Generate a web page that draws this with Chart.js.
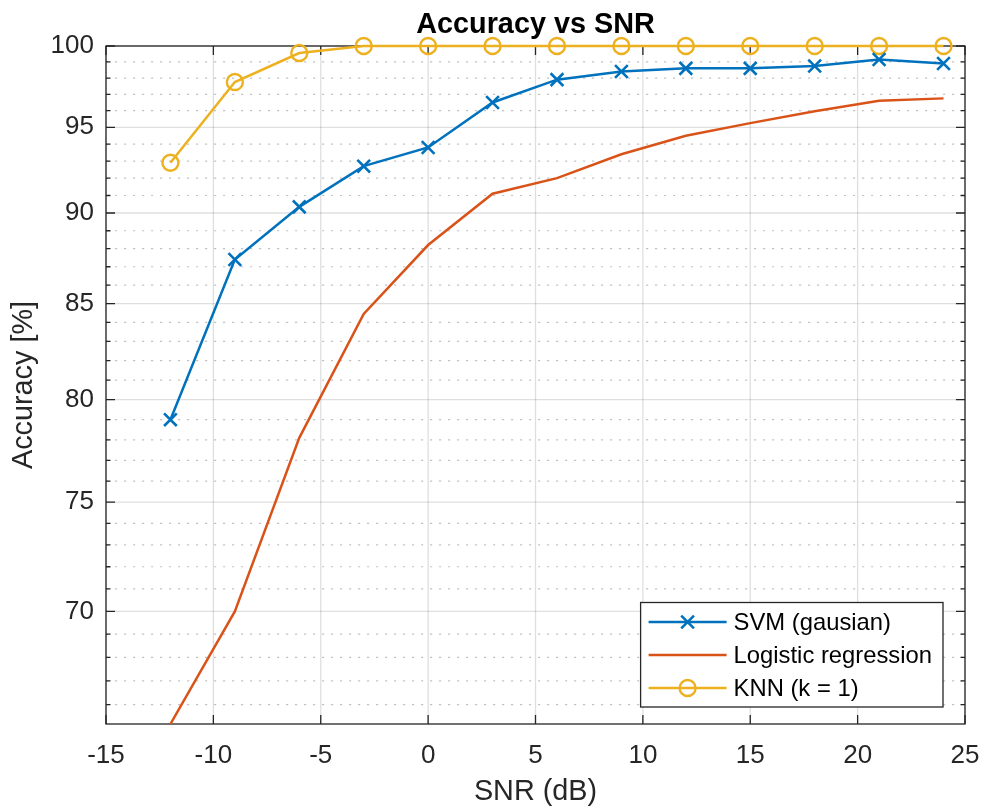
<!DOCTYPE html>
<html>
<head>
<meta charset="utf-8">
<title>Accuracy vs SNR</title>
<script src="https://cdn.jsdelivr.net/npm/chart.js@4/dist/chart.umd.min.js"></script>
<style>
  html, body { margin: 0; padding: 0; background: #ffffff; }
  #wrap { width: 981px; height: 807px; position: relative; }
</style>
</head>
<body>
<div id="wrap"><canvas id="chart"></canvas></div>
<script>
// SNR sweep (dB) and classifier accuracy (%) at each point
const snr = [-12, -9, -6, -3, 0, 3, 6, 9, 12, 15, 18, 21, 24];
const svmAcc = [79.0, 87.4, 90.35, 92.7, 93.8, 96.5, 97.9, 98.4, 98.6, 98.6, 98.75, 99.15, 98.9];
const logisticAcc = [65.2, 70.0, 78.1, 84.45, 88.2, 91.1, 92.0, 93.4, 94.5, 95.25, 95.97, 96.6, 96.75];
const knnAcc = [92.9, 97.75, 99.56, 100, 100, 100, 100, 100, 100, 100, 100, 100, 100];

const seriesNames = ['SVM (gausian)', 'Logistic regression', 'KNN (k = 1)'];
const xTicks = [-15, -10, -5, 0, 5, 10, 15, 20, 25];
const yTicks = [70, 75, 80, 85, 90, 95, 100];

const FONT = '"Liberation Sans", Arial, Helvetica, sans-serif';
const AXIS_COLOR = '#262626';

const allValues = svmAcc.concat(logisticAcc, knnAcc);
const yMin = Math.min(...allValues);
const yMax = Math.max(...allValues);

const toPoints = vals => vals.map((v, i) => ({ x: snr[i], y: v }));

// Grid, box and inward tick marks in the style of a MATLAB axes
const axesFrame = {
  id: 'axesFrame',
  beforeDatasetsDraw(chart) {
    const { ctx, chartArea: a, scales: { x, y } } = chart;
    const hline = p => { ctx.beginPath(); ctx.moveTo(a.left, p); ctx.lineTo(a.right, p); ctx.stroke(); };
    const vline = p => { ctx.beginPath(); ctx.moveTo(p, a.top); ctx.lineTo(p, a.bottom); ctx.stroke(); };
    const yMinor = [];
    for (let v = Math.ceil(y.min); v <= Math.floor(y.max); v++) {
      if (!yTicks.includes(v)) yMinor.push(v);
    }
    ctx.save();
    // minor dotted grid (log decades split at every unit)
    ctx.lineWidth = 1.2;
    ctx.strokeStyle = 'rgba(38,38,38,0.28)';
    ctx.setLineDash([2.2, 6.8]);
    yMinor.forEach(v => hline(y.getPixelForValue(v)));
    ctx.setLineDash([]);
    // major grid
    ctx.lineWidth = 1.3;
    ctx.strokeStyle = 'rgba(38,38,38,0.15)';
    yTicks.forEach(v => hline(y.getPixelForValue(v)));
    xTicks.forEach(v => vline(x.getPixelForValue(v)));
    // axes box
    ctx.strokeStyle = AXIS_COLOR;
    ctx.lineWidth = 1.3;
    ctx.strokeRect(a.left, a.top, a.right - a.left, a.bottom - a.top);
    // inward ticks
    const major = 9, minor = 4.5;
    ctx.beginPath();
    xTicks.forEach(v => {
      const p = x.getPixelForValue(v);
      ctx.moveTo(p, a.bottom); ctx.lineTo(p, a.bottom - major);
      ctx.moveTo(p, a.top); ctx.lineTo(p, a.top + major);
    });
    yTicks.forEach(v => {
      const p = y.getPixelForValue(v);
      ctx.moveTo(a.left, p); ctx.lineTo(a.left + major, p);
      ctx.moveTo(a.right, p); ctx.lineTo(a.right - major, p);
    });
    yMinor.forEach(v => {
      const p = y.getPixelForValue(v);
      ctx.moveTo(a.left, p); ctx.lineTo(a.left + minor, p);
      ctx.moveTo(a.right, p); ctx.lineTo(a.right - minor, p);
    });
    ctx.stroke();
    ctx.restore();
  }
};

// Boxed legend in the lower-right corner of the plot area
const cornerLegend = {
  id: 'cornerLegend',
  afterDatasetsDraw(chart) {
    const { ctx, chartArea: a } = chart;
    const sets = chart.data.datasets;
    ctx.save();
    ctx.font = '23.8px ' + FONT;
    const textW = Math.max(...sets.map(d => ctx.measureText(d.label).width));
    const rowH = 33, padTop = 19.5, padBottom = 19;
    const sampleLeft = 8, sampleLen = 78, textGap = 7, padRight = 11;
    const w = sampleLeft + sampleLen + textGap + textW + padRight;
    const h = padTop + rowH * (sets.length - 1) + padBottom;
    const right = a.right - 22, bottom = a.bottom - 17;
    const left = right - w, top = bottom - h;
    ctx.fillStyle = '#ffffff';
    ctx.fillRect(left, top, w, h);
    ctx.lineWidth = 1.3;
    ctx.strokeStyle = AXIS_COLOR;
    ctx.strokeRect(left, top, w, h);
    sets.forEach((d, i) => {
      const cy = top + padTop + rowH * i;
      const x0 = left + sampleLeft, x1 = x0 + sampleLen, cx = (x0 + x1) / 2;
      ctx.strokeStyle = d.borderColor;
      ctx.lineWidth = d.borderWidth;
      ctx.beginPath(); ctx.moveTo(x0, cy); ctx.lineTo(x1, cy); ctx.stroke();
      if (d.pointRadius > 0) {
        ctx.lineWidth = d.pointBorderWidth;
        ctx.beginPath();
        if (d.pointStyle === 'circle') {
          ctx.arc(cx, cy, d.pointRadius, 0, Math.PI * 2);
        } else {
          const r = d.pointRadius * Math.SQRT1_2;
          ctx.moveTo(cx - r, cy - r); ctx.lineTo(cx + r, cy + r);
          ctx.moveTo(cx + r, cy - r); ctx.lineTo(cx - r, cy + r);
        }
        ctx.stroke();
      }
      ctx.fillStyle = '#000000';
      ctx.textAlign = 'left';
      ctx.textBaseline = 'middle';
      ctx.fillText(d.label, x1 + textGap, cy + 1);
    });
    ctx.restore();
  }
};

// Bold title centred over the axes
const axesTitle = {
  id: 'axesTitle',
  afterDraw(chart) {
    const { ctx, chartArea: a } = chart;
    ctx.save();
    ctx.font = 'bold 28.8px ' + FONT;
    ctx.fillStyle = '#000000';
    ctx.textAlign = 'center';
    ctx.textBaseline = 'alphabetic';
    ctx.fillText('Accuracy vs SNR', (a.left + a.right) / 2, 32.7);
    ctx.restore();
  }
};

new Chart(document.getElementById('chart'), {
  type: 'line',
  data: {
    datasets: [
      {
        label: seriesNames[0],
        data: toPoints(svmAcc),
        borderColor: '#0072BD',
        backgroundColor: '#0072BD',
        borderWidth: 2.5,
        pointStyle: 'crossRot',
        pointRadius: 9,
        pointHoverRadius: 9,
        pointBorderWidth: 2.6,
        pointBorderColor: '#0072BD',
        clip: false
      },
      {
        label: seriesNames[1],
        data: toPoints(logisticAcc),
        borderColor: '#D95319',
        backgroundColor: '#D95319',
        borderWidth: 2.5,
        pointRadius: 0,
        pointHoverRadius: 0,
        pointBorderWidth: 0
      },
      {
        label: seriesNames[2],
        data: toPoints(knnAcc),
        borderColor: '#EDB120',
        backgroundColor: 'rgba(0,0,0,0)',
        borderWidth: 2.5,
        pointStyle: 'circle',
        pointRadius: 8,
        pointHoverRadius: 8,
        pointBorderWidth: 2.4,
        pointBorderColor: '#EDB120',
        pointBackgroundColor: 'rgba(0,0,0,0)',
        clip: false
      }
    ]
  },
  options: {
    responsive: true,
    maintainAspectRatio: false,
    animation: false,
    events: [],
    layout: { padding: { top: 46, right: 16, bottom: 0, left: 0 } },
    plugins: {
      legend: { display: false },
      title: { display: false },
      tooltip: { enabled: false }
    },
    elements: { line: { tension: 0 } },
    scales: {
      x: {
        type: 'linear',
        position: 'bottom',
        min: xTicks[0],
        max: xTicks[xTicks.length - 1],
        afterBuildTicks: s => { s.ticks = xTicks.map(v => ({ value: v })); },
        afterFit: s => { s.height = 83; s.paddingLeft = 0; s.paddingRight = 0; },
        grid: { display: false, drawTicks: false },
        border: { display: false },
        ticks: {
          padding: 16,
          color: AXIS_COLOR,
          font: { family: FONT, size: 26 },
          maxRotation: 0,
          autoSkip: false,
          callback: v => String(v)
        },
        title: {
          display: true,
          text: 'SNR (dB)',
          color: AXIS_COLOR,
          font: { family: FONT, size: 28.8, lineHeight: 1 },
          padding: { top: 0, bottom: 1 }
        }
      },
      y: {
        type: 'logarithmic',
        position: 'left',
        min: yMin,
        max: yMax,
        afterBuildTicks: s => { s.ticks = yTicks.map(v => ({ value: v })); },
        afterFit: s => { s.width = 106; s.paddingTop = 0; s.paddingBottom = 0; },
        grid: { display: false, drawTicks: false },
        border: { display: false },
        ticks: {
          padding: 12,
          color: AXIS_COLOR,
          font: { family: FONT, size: 26 },
          autoSkip: false,
          callback: v => String(v)
        },
        title: {
          display: true,
          text: 'Accuracy [%]',
          color: AXIS_COLOR,
          font: { family: FONT, size: 28.8, lineHeight: 1 },
          padding: { top: 10, bottom: 0 }
        }
      }
    }
  },
  plugins: [axesFrame, cornerLegend, axesTitle]
});
</script>
</body>
</html>
